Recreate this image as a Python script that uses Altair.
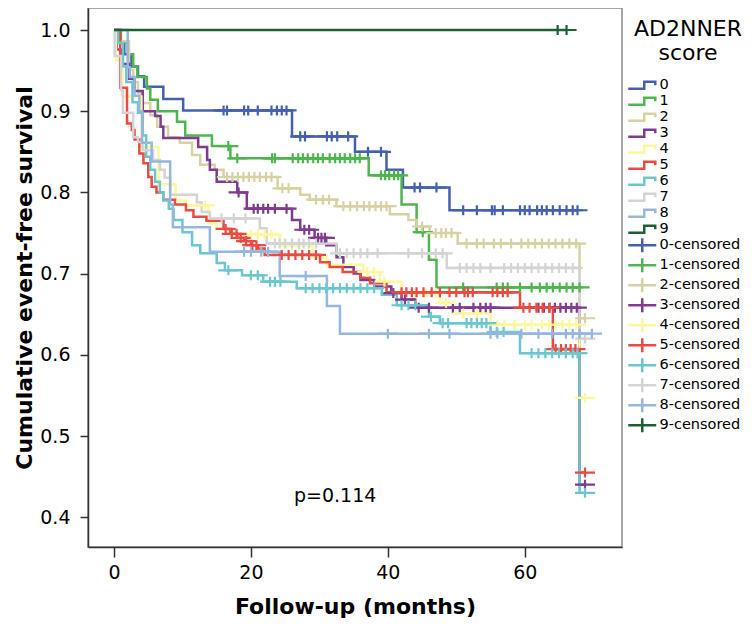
import altair as alt
import pandas as pd

labels = [str(i) for i in range(10)]
cens_labels = [f"{i}-censored" for i in range(10)]
colors = ["#4460B0", "#4FB54F", "#D7D2A4", "#7F3B8F", "#FCF89C",
          "#E94B43", "#6CC6CF", "#D4D4D4", "#95B7DE", "#1E6131"]

# step curves: event times and survival after each step
t0 = [0, 0.8, 1.5, 2.5, 3.5, 4.4, 7.2, 10.1, 26.0, 35.2, 39.8, 42.2, 49.0]
s0 = [1.0, 0.985, 0.97, 0.955, 0.943, 0.93, 0.915, 0.901, 0.869, 0.85, 0.828, 0.806, 0.778]
c0 = [16.0, 16.5, 19.0, 19.6, 21.0, 23.0, 23.8, 24.5, 25.2, 27.2, 27.9, 31.1, 31.8, 32.6, 34.2,
      37.1, 39.0, 43.9, 44.7, 47.1, 51.0, 53.0, 55.2, 55.6, 56.8, 59.3, 60.0, 60.7, 61.8, 62.5,
      63.2, 64.1, 65.1, 66.1, 67.0, 67.7]

t1 = [0, 1.0, 2.0, 2.8, 3.4, 4.8, 5.3, 6.4, 9.2, 10.4, 14.3, 17.0, 37.2, 42.0, 44.2, 46.0, 47.1]
s1 = [1.0, 0.985, 0.97, 0.955, 0.942, 0.928, 0.914, 0.9, 0.887, 0.87, 0.857, 0.842, 0.821,
      0.785, 0.751, 0.717, 0.683]
c1 = [16.7, 18.0, 23.1, 23.5, 26.1, 26.9, 27.6, 28.3, 29.1, 29.8, 30.5, 31.5, 32.3, 33.0, 33.7,
      34.5, 35.2, 35.9, 39.0, 39.6, 40.2, 40.9, 41.5, 45.1, 51.0, 55.9, 56.8, 57.5, 59.3, 61.0,
      62.2, 63.2, 64.1, 65.1, 66.1, 67.0, 68.0]

t2 = [0, 0.8, 2.2, 2.8, 3.5, 4.0, 5.3, 6.3, 7.9, 9.6, 11.4, 12.6, 14.7, 16.0, 23.9, 27.2, 28.6,
      32.5, 40.3, 43.0, 44.2, 46.1, 50.2, 68.0]
s2 = [1.0, 0.986, 0.951, 0.936, 0.922, 0.91, 0.895, 0.881, 0.868, 0.861, 0.846, 0.834, 0.828,
      0.819, 0.805, 0.797, 0.791, 0.783, 0.773, 0.766, 0.758, 0.75, 0.737, 0.645]
c2 = [16.5, 17.3, 18.1, 18.9, 19.7, 20.5, 21.3, 22.2, 23.0, 24.6, 25.5, 29.5, 30.5, 31.4, 33.5,
      34.5, 35.5, 36.5, 37.3, 38.2, 39.0, 39.8, 45.0, 47.0, 47.8, 48.5, 49.3, 51.5, 53.0, 54.0,
      55.5, 56.5, 58.0, 59.5, 60.5, 61.5, 62.5, 63.5, 64.5, 65.5, 66.5, 67.5, 68.8]

t3 = [0, 0.4, 1.2, 2.2, 3.0, 4.2, 6.0, 6.8, 7.2, 12.3, 13.6, 14.0, 15.0, 18.0, 19.4, 26.0, 27.2,
      29.3, 31.0, 32.5, 33.5, 35.0, 36.0, 38.0, 40.5, 42.0, 44.0, 68.0]
s3 = [1.0, 0.976, 0.958, 0.94, 0.925, 0.9, 0.894, 0.881, 0.867, 0.856, 0.84, 0.828, 0.813, 0.8,
      0.78, 0.766, 0.754, 0.744, 0.735, 0.72, 0.708, 0.7, 0.692, 0.684, 0.676, 0.668, 0.658, 0.44]
c3 = [18.2, 20.4, 21.0, 21.8, 22.5, 23.5, 25.2, 27.8, 28.5, 29.8, 30.3, 30.8, 40.8, 42.5, 44.5,
      46.0, 49.5, 50.5, 52.5, 53.5, 54.3, 55.0, 62.0, 62.8, 63.6, 64.4, 65.2, 66.0, 66.8, 67.6, 68.8]

t4 = [0, 0.3, 1.2, 4.0, 6.5, 9.0, 10.5, 13.8, 15.0, 17.0, 24.2, 29.0, 31.0, 36.4, 38.8, 42.0,
      47.6, 49.5, 55.0, 68.0]
s4 = [1.0, 0.963, 0.918, 0.856, 0.81, 0.79, 0.784, 0.762, 0.755, 0.748, 0.735, 0.72, 0.711,
      0.702, 0.69, 0.676, 0.664, 0.651, 0.637, 0.547]
c4 = [13.3, 20.0, 21.0, 22.0, 23.0, 26.0, 27.0, 37.0, 38.0, 39.5, 44.0, 45.5, 47.0, 48.5, 51.0,
      53.0, 56.0, 57.0, 58.5, 60.0, 61.0, 62.5, 63.5, 64.5, 65.5, 66.5, 67.5, 68.8]

t5 = [0, 0.9, 1.9, 2.6, 3.0, 3.7, 4.3, 5.0, 5.5, 6.2, 7.2, 8.9, 10.5, 11.6, 13.5, 16.0, 17.0,
      18.0, 19.0, 20.0, 21.0, 22.0, 30.1, 31.5, 33.4, 36.0, 37.4, 39.8, 59.3, 64.1, 68.0]
s5 = [1.0, 0.929, 0.885, 0.877, 0.865, 0.848, 0.836, 0.819, 0.807, 0.8, 0.791, 0.785, 0.778,
      0.77, 0.765, 0.755, 0.749, 0.744, 0.74, 0.735, 0.731, 0.723, 0.714, 0.708, 0.702, 0.695,
      0.688, 0.677, 0.658, 0.607, 0.455]
c5 = [16.3, 17.2, 17.9, 18.5, 19.3, 20.2, 20.8, 24.5, 25.5, 26.5, 27.5, 28.5, 29.5, 42.0, 42.7,
      43.5, 44.2, 45.2, 46.4, 47.6, 49.0, 50.0, 51.2, 51.7, 52.4, 55.3, 56.0, 56.8, 57.5, 59.8,
      60.7, 61.7, 62.6, 63.6, 64.5, 65.3, 66.0, 66.7, 67.4, 68.8]

t6 = [0, 0.6, 1.3, 1.8, 2.7, 3.5, 4.2, 4.7, 5.3, 6.0, 6.7, 7.2, 8.0, 8.7, 10.0, 11.4, 12.6, 15.0,
      16.2, 18.7, 21.8, 26.7, 39.1, 41.3, 46.0, 47.6, 55.0, 59.3, 68.0]
s6 = [1.0, 0.984, 0.955, 0.936, 0.911, 0.898, 0.87, 0.844, 0.828, 0.813, 0.8, 0.79, 0.78, 0.766,
      0.751, 0.735, 0.725, 0.713, 0.704, 0.698, 0.69, 0.682, 0.674, 0.661, 0.647, 0.639, 0.628,
      0.602, 0.43]
c6 = [16.7, 20.0, 21.0, 22.8, 23.5, 24.3, 28.0, 29.0, 30.0, 31.0, 32.0, 33.0, 34.0, 35.0, 36.0,
      37.0, 38.0, 42.0, 43.0, 44.0, 46.3, 48.0, 48.8, 51.5, 52.2, 53.0, 53.7, 54.4, 55.9, 56.9,
      61.0, 62.0, 63.0, 64.0, 65.0, 66.0, 67.0, 67.7, 68.8]

t7 = [0, 0.1, 1.0, 1.3, 2.8, 3.5, 4.2, 5.7, 6.7, 7.4, 8.2, 12.1, 12.8, 14.0, 21.3, 22.3, 32.5,
      48.6, 68.0]
s7 = [1.0, 0.968, 0.926, 0.898, 0.868, 0.862, 0.852, 0.84, 0.828, 0.818, 0.797, 0.788, 0.776,
      0.768, 0.756, 0.737, 0.725, 0.707, 0.62]
c7 = [15.7, 17.5, 19.2, 23.5, 24.2, 25.0, 26.0, 27.0, 27.7, 28.5, 29.5, 33.0, 34.0, 35.0, 36.0,
      37.0, 38.5, 43.0, 45.0, 47.0, 48.0, 50.5, 51.5, 52.5, 53.5, 55.0, 57.0, 58.0, 59.0, 60.0,
      61.0, 62.0, 63.0, 64.0, 65.0, 66.0, 67.0, 68.8]

t8 = [0, 2.0, 2.3, 3.0, 3.7, 4.1, 5.5, 8.2, 8.6, 14.0, 24.2, 31.1, 33.0]
s8 = [1.0, 0.954, 0.942, 0.919, 0.9, 0.861, 0.838, 0.785, 0.757, 0.727, 0.697, 0.66, 0.626]
c8 = [19.0, 20.0, 21.5, 22.5, 28.0, 40.0, 46.0, 49.0, 55.0, 56.0, 59.5, 62.0, 64.0, 66.0, 67.0,
      68.0, 69.8]

t9 = [0]
s9 = [1.0]
c9 = [64.8, 66.1]

ends = [67.7, 68.0, 68.8, 68.8, 68.8, 68.8, 68.8, 68.8, 69.8, 66.1]
times = [t0, t1, t2, t3, t4, t5, t6, t7, t8, t9]
survs = [s0, s1, s2, s3, s4, s5, s6, s7, s8, s9]
cens = [c0, c1, c2, c3, c4, c5, c6, c7, c8, c9]

p_text = ["p=0.114"]
p_month = [32.3]
p_surv = [0.426]

line_rows = []
pt_rows = []
for g, cl, t, s, e, c in zip(labels, cens_labels, times, survs, ends, cens):
    for ti, si in zip(t, s):
        line_rows.append({"label": g, "month": ti, "surv": si})
    line_rows.append({"label": g, "month": e, "surv": s[-1]})
    for ci in c:
        val = s[0]
        for ti, si in zip(t, s):
            if ti <= ci:
                val = si
        pt_rows.append({"label": cl, "month": ci, "surv": val})

lines_df = pd.DataFrame(line_rows)
pts_df = pd.DataFrame(pt_rows)
txt_df = pd.DataFrame({"text": p_text, "month": p_month, "surv": p_surv})

# symbol paths (unit = sqrt(size)/2 px)
step_path = "M-7,1.75H1V-1.75H6.5V0"
cross_path = "M-7,0H7M0,-3.5V3.5"

all_labels = labels + cens_labels
legend = alt.Legend(
    title=["AD2NNER", "score"], orient="none", legendX=546, legendY=11,
    titleFontSize=22, titleFontWeight="normal", titleAlign="center", titleAnchor="middle",
    titleLineHeight=24, titlePadding=13, titleColor="#000",
    labelFontSize=14.5, labelColor="#000", labelOffset=10,
    symbolSize=16, symbolStrokeWidth=2.5, rowPadding=-7, padding=0,
)
color = alt.Color("label:N", scale=alt.Scale(domain=all_labels, range=colors + colors),
                  legend=legend, sort=all_labels)
shape = alt.Shape("label:N", scale=alt.Scale(domain=all_labels,
                  range=[step_path] * 10 + [cross_path] * 10), legend=legend, sort=all_labels)

xs = alt.X("month:Q", scale=alt.Scale(domain=[-3.8, 74.2], nice=False, zero=False),
           axis=alt.Axis(title="Follow-up (months)", values=[0, 20, 40, 60], format="d",
                         grid=False, tickSize=10, labelPadding=6, titlePadding=14))
ys = alt.Y("surv:Q", scale=alt.Scale(domain=[0.3633, 1.0271], nice=False, zero=False),
           axis=alt.Axis(title="Cumulative event-free survival",
                         values=[0.4, 0.5, 0.6, 0.7, 0.8, 0.9, 1.0], format=".1f",
                         grid=False, tickSize=8, labelPadding=10, titlePadding=3))

lines = alt.Chart(lines_df).mark_line(interpolate="step-after", strokeWidth=2.5).encode(
    x=xs, y=ys, color=color, detail="label:N")
points = alt.Chart(pts_df).mark_point(filled=False, strokeWidth=2.2, size=8.2, opacity=1).encode(
    x="month:Q", y="surv:Q", color=color, shape=shape)
txt = alt.Chart(txt_df).mark_text(fontSize=19, font="DejaVu Sans", color="#000").encode(
    x="month:Q", y="surv:Q", text="text:N")

chart = alt.layer(lines, points, txt).properties(
    width=534, height=539,
    autosize=alt.AutoSizeParams(type="none"),
    padding={"left": 80, "top": 0, "right": 126, "bottom": 75},
).configure(font="DejaVu Sans").configure_view(
    stroke="#8a8a8a", strokeWidth=1.5
).configure_axis(
    domainColor="#333", domainWidth=1.5, tickColor="#333", tickWidth=1.5,
    labelFontSize=19, labelColor="#000", titleFontSize=22, titleFontWeight="bold",
    titleColor="#000", labelFont="DejaVu Sans", titleFont="DejaVu Sans"
)

chart.save("out.html", embed_options={"renderer": "svg", "actions": False})
